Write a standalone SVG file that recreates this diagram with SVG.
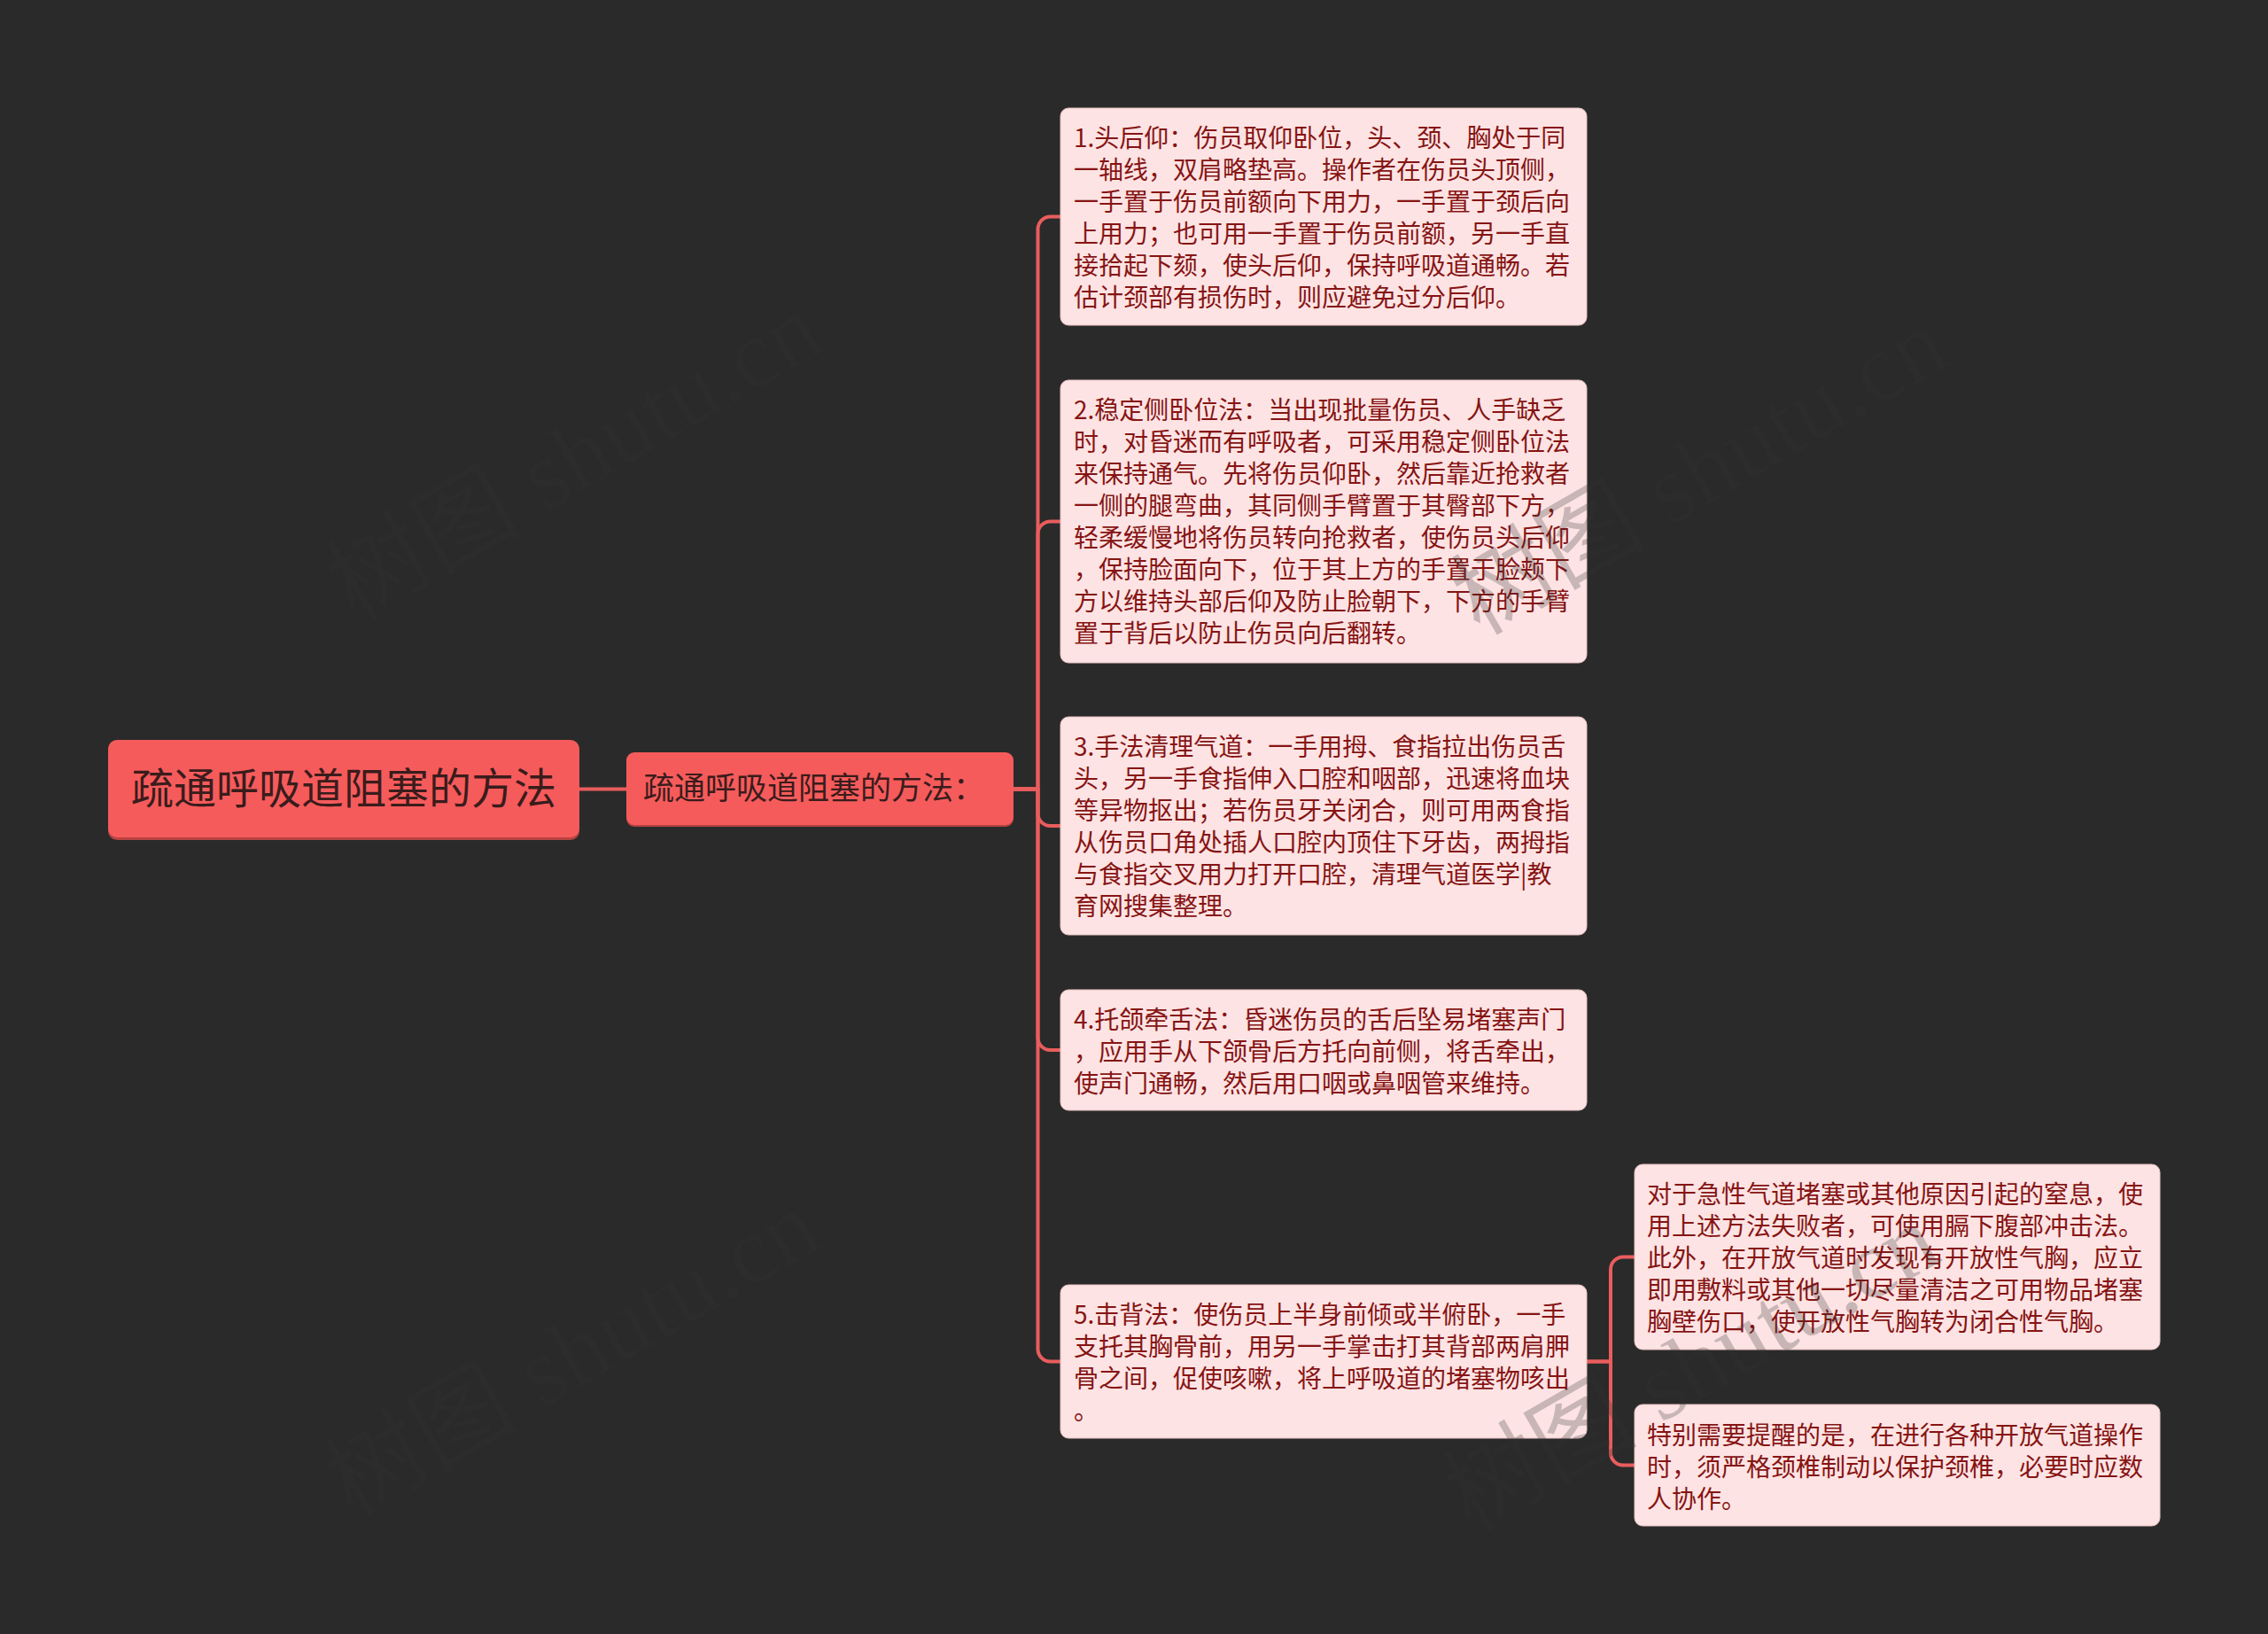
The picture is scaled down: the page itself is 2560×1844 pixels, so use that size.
<svg xmlns="http://www.w3.org/2000/svg" width="2560" height="1844" viewBox="0 0 2560 1844">
<defs>
<style>
.bg{fill:#2a2a2a}
.main{fill:#f65b5b}
.mainsh{fill:#b94242}
.leaf{fill:#fde3e3;stroke:#e9c2c2;stroke-width:1}
.conn{fill:none;stroke:#e95d5d;stroke-width:4;stroke-linecap:round;stroke-linejoin:round}
.t{font-family:"Noto Sans CJK SC","Noto Sans",sans-serif}
.root{font-size:48px;fill:#3a1c1c}
.sub{font-size:35px;fill:#3a1c1c}
.lt{font-size:28px;fill:#861414}
.wm{font-family:"Liberation Serif","Noto Sans CJK SC",serif;font-size:110px;fill:#333333;fill-opacity:0.26}
</style>
</defs>
<rect class="bg" x="0" y="0" width="2560" height="1844"/>

<g id="connectors">
<path class="conn" d="M654 890.5 H707"/>
<path class="conn" d="M1144 890.5 H1171.5 V258.5 A14 14 0 0 1 1185.5 244.5 H1197"/>
<path class="conn" d="M1144 890.5 H1171.5 V602.5 A14 14 0 0 1 1185.5 588.5 H1197"/>
<path class="conn" d="M1144 890.5 H1171.5 V918 A14 14 0 0 0 1185.5 932 H1197"/>
<path class="conn" d="M1144 890.5 H1171.5 V1171 A14 14 0 0 0 1185.5 1185 H1197"/>
<path class="conn" d="M1144 890.5 H1171.5 V1522.5 A14 14 0 0 0 1185.5 1536.5 H1197"/>
<path class="conn" d="M1791 1536.5 H1818 V1432.5 A14 14 0 0 1 1832 1418.5 H1845"/>
<path class="conn" d="M1791 1536.5 H1818 V1639.5 A14 14 0 0 0 1832 1653.5 H1845"/>
</g>

<g id="root">
<rect class="mainsh" x="122" y="837" width="532" height="111" rx="10"/>
<rect class="main" x="122" y="835" width="532" height="110" rx="10"/>
<text class="t root" x="388" y="907" text-anchor="middle">疏通呼吸道阻塞的方法</text>
</g>

<g id="sub">
<rect class="mainsh" x="707" y="851" width="437" height="82" rx="9"/>
<rect class="main" x="707" y="849" width="437" height="82" rx="9"/>
<text class="t sub" x="726" y="902">疏通呼吸道阻塞的方法：</text>
</g>

<g id="leaf1">
<rect class="leaf" x="1197" y="122" width="594" height="245" rx="9"/>
<text class="t lt">
<tspan x="1212" y="166">1.头后仰：伤员取仰卧位，头、颈、胸处于同</tspan>
<tspan x="1212" y="202">一轴线，双肩略垫高。操作者在伤员头顶侧，</tspan>
<tspan x="1212" y="238">一手置于伤员前额向下用力，一手置于颈后向</tspan>
<tspan x="1212" y="274">上用力；也可用一手置于伤员前额，另一手直</tspan>
<tspan x="1212" y="310">接拾起下颏，使头后仰，保持呼吸道通畅。若</tspan>
<tspan x="1212" y="346">估计颈部有损伤时，则应避免过分后仰。</tspan>
</text>
</g>

<g id="leaf2">
<rect class="leaf" x="1197" y="429" width="594" height="319" rx="9"/>
<text class="t lt">
<tspan x="1212" y="473">2.稳定侧卧位法：当出现批量伤员、人手缺乏</tspan>
<tspan x="1212" y="509">时，对昏迷而有呼吸者，可采用稳定侧卧位法</tspan>
<tspan x="1212" y="545">来保持通气。先将伤员仰卧，然后靠近抢救者</tspan>
<tspan x="1212" y="581">一侧的腿弯曲，其同侧手臂置于其臀部下方，</tspan>
<tspan x="1212" y="617">轻柔缓慢地将伤员转向抢救者，使伤员头后仰</tspan>
<tspan x="1212" y="653">，保持脸面向下，位于其上方的手置于脸颊下</tspan>
<tspan x="1212" y="689">方以维持头部后仰及防止脸朝下，下方的手臂</tspan>
<tspan x="1212" y="725">置于背后以防止伤员向后翻转。</tspan>
</text>
</g>

<g id="leaf3">
<rect class="leaf" x="1197" y="809" width="594" height="246" rx="9"/>
<text class="t lt">
<tspan x="1212" y="853">3.手法清理气道：一手用拇、食指拉出伤员舌</tspan>
<tspan x="1212" y="889">头，另一手食指伸入口腔和咽部，迅速将血块</tspan>
<tspan x="1212" y="925">等异物抠出；若伤员牙关闭合，则可用两食指</tspan>
<tspan x="1212" y="961">从伤员口角处插人口腔内顶住下牙齿，两拇指</tspan>
<tspan x="1212" y="997">与食指交叉用力打开口腔，清理气道医学|教</tspan>
<tspan x="1212" y="1033">育网搜集整理。</tspan>
</text>
</g>

<g id="leaf4">
<rect class="leaf" x="1197" y="1117" width="594" height="136" rx="9"/>
<text class="t lt">
<tspan x="1212" y="1161">4.托颌牵舌法：昏迷伤员的舌后坠易堵塞声门</tspan>
<tspan x="1212" y="1197">，应用手从下颌骨后方托向前侧，将舌牵出，</tspan>
<tspan x="1212" y="1233">使声门通畅，然后用口咽或鼻咽管来维持。</tspan>
</text>
</g>

<g id="leaf5">
<rect class="leaf" x="1197" y="1450" width="594" height="173" rx="9"/>
<text class="t lt">
<tspan x="1212" y="1494">5.击背法：使伤员上半身前倾或半俯卧，一手</tspan>
<tspan x="1212" y="1530">支托其胸骨前，用另一手掌击打其背部两肩胛</tspan>
<tspan x="1212" y="1566">骨之间，促使咳嗽，将上呼吸道的堵塞物咳出</tspan>
<tspan x="1212" y="1602">。</tspan>
</text>
</g>

<g id="leaf5a">
<rect class="leaf" x="1845" y="1314" width="593" height="209" rx="9"/>
<text class="t lt">
<tspan x="1859" y="1358">对于急性气道堵塞或其他原因引起的窒息，使</tspan>
<tspan x="1859" y="1394">用上述方法失败者，可使用膈下腹部冲击法。</tspan>
<tspan x="1859" y="1430">此外，在开放气道时发现有开放性气胸，应立</tspan>
<tspan x="1859" y="1466">即用敷料或其他一切尽量清洁之可用物品堵塞</tspan>
<tspan x="1859" y="1502">胸壁伤口，使开放性气胸转为闭合性气胸。</tspan>
</text>
</g>

<g id="leaf5b">
<rect class="leaf" x="1845" y="1585" width="593" height="137" rx="9"/>
<text class="t lt">
<tspan x="1859" y="1630">特别需要提醒的是，在进行各种开放气道操作</tspan>
<tspan x="1859" y="1666">时，须严格颈椎制动以保护颈椎，必要时应数</tspan>
<tspan x="1859" y="1702">人协作。</tspan>
</text>
</g>

<g id="watermarks">
<text class="wm" transform="translate(400 702) rotate(-30)">树图 shutu.cn</text>
<text class="wm" transform="translate(1670 718) rotate(-30)">树图 shutu.cn</text>
<text class="wm" transform="translate(397 1714) rotate(-30)">树图 shutu.cn</text>
<text class="wm" transform="translate(1660 1730) rotate(-30)">树图 shutu.cn</text>
</g>
</svg>
